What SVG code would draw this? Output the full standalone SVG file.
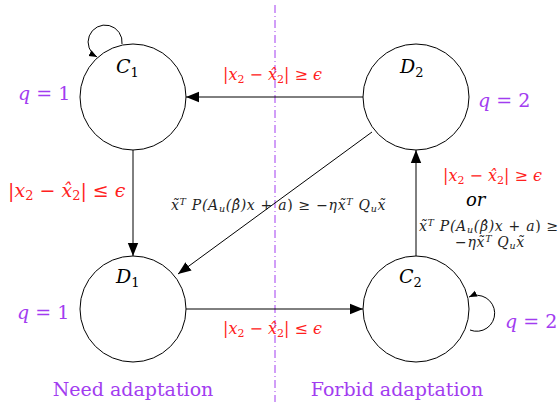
<svg xmlns="http://www.w3.org/2000/svg" width="560" height="405" viewBox="0 0 560 405">
<style>
.node{fill:none;stroke:#000;stroke-width:1}
.edge{fill:none;stroke:#000;stroke-width:1}
text{font-family:"DejaVu Serif","Liberation Serif",serif}
.m{font-style:italic}
.lab{font-size:19px;fill:#000}
.q{font-size:19px;fill:#a23cf0}
.red{font-size:16px;fill:#ff2020}
.big{font-size:19px}
.small{font-size:14px;fill:#222;letter-spacing:0.7px}
.cap{font-size:19px;fill:#a23cf0}
</style>
<defs>
<marker id="ah" viewBox="0 0 10 10" refX="10" refY="5" markerWidth="13" markerHeight="13" markerUnits="userSpaceOnUse" orient="auto">
<path d="M0,1 L10,5 L0,9 z" fill="#000"/>
</marker>
<marker id="ahs" viewBox="0 0 10 10" refX="10" refY="5" markerWidth="8" markerHeight="8" markerUnits="userSpaceOnUse" orient="auto">
<path d="M0,1 L10,5 L0,9 z" fill="#000"/>
</marker>
</defs>
<line x1="275" y1="5" x2="275" y2="402" stroke="#a23cf0" stroke-width="1" stroke-dasharray="8,3,1,3"/>
<g id="C1"><circle class="node" cx="133" cy="97" r="53"/><text class="m lab" x="116" y="73">C<tspan font-style="normal" font-size="13" dy="4">1</tspan></text></g>
<g id="D2"><circle class="node" cx="416" cy="97" r="53"/><text class="m lab" x="400" y="73">D<tspan font-style="normal" font-size="13" dy="4">2</tspan></text></g>
<g id="D1"><circle class="node" cx="133" cy="309" r="53"/><text class="m lab" x="116" y="283">D<tspan font-style="normal" font-size="13" dy="4">1</tspan></text></g>
<g id="C2"><circle class="node" cx="416" cy="309" r="53"/><text class="m lab" x="399" y="283">C<tspan font-style="normal" font-size="13" dy="4">2</tspan></text></g>
<g id="connectors">
<line class="edge" x1="363" y1="97" x2="186" y2="97" marker-end="url(#ah)"/>
<line class="edge" x1="133" y1="150" x2="133" y2="256" marker-end="url(#ah)"/>
<line class="edge" x1="186" y1="309" x2="363" y2="309" marker-end="url(#ah)"/>
<line class="edge" x1="416" y1="256" x2="416" y2="150" marker-end="url(#ah)"/>
<line class="edge" x1="372" y1="132" x2="178" y2="274" marker-end="url(#ah)"/>
<path class="edge" d="M122,44 A17,17 0 1 0 97,57" marker-end="url(#ahs)"/>
<path class="edge" d="M470,330 A18,18 0 1 0 469,297" marker-end="url(#ahs)"/>
</g>
<text class="m q" x="18" y="100">q <tspan font-style="normal">= 1</tspan></text>
<text class="m q" x="478" y="107">q <tspan font-style="normal">= 2</tspan></text>
<text class="m q" x="17" y="319">q <tspan font-style="normal">= 1</tspan></text>
<text class="m q" x="505" y="328">q <tspan font-style="normal">= 2</tspan></text>
<text class="m red" x="223" y="80"><tspan font-style="normal">|</tspan>x<tspan font-style="normal" font-size="11" dy="3">2</tspan><tspan font-style="normal" dy="-3"> − </tspan>x̂<tspan font-style="normal" font-size="11" dy="3">2</tspan><tspan font-style="normal" dy="-3">| ≥ </tspan>ϵ</text>
<text class="m red" x="223" y="334"><tspan font-style="normal">|</tspan>x<tspan font-style="normal" font-size="11" dy="3">2</tspan><tspan font-style="normal" dy="-3"> − </tspan>x̂<tspan font-style="normal" font-size="11" dy="3">2</tspan><tspan font-style="normal" dy="-3">| ≤ </tspan>ϵ</text>
<text class="m red big" x="8" y="197"><tspan font-style="normal">|</tspan>x<tspan font-style="normal" font-size="13" dy="3">2</tspan><tspan font-style="normal" dy="-3"> − </tspan>x̂<tspan font-style="normal" font-size="13" dy="3">2</tspan><tspan font-style="normal" dy="-3">| ≤ </tspan>ϵ</text>
<text class="m red" x="443" y="181"><tspan font-style="normal">|</tspan>x<tspan font-style="normal" font-size="11" dy="3">2</tspan><tspan font-style="normal" dy="-3"> − </tspan>x̂<tspan font-style="normal" font-size="11" dy="3">2</tspan><tspan font-style="normal" dy="-3">| ≥ </tspan>ϵ</text>
<text class="m" x="466" y="206" font-size="18" fill="#000">or</text>
<text class="m small" x="171" y="210">x̃<tspan font-size="9.5" dy="-5">T</tspan><tspan dy="5"> P(A</tspan><tspan font-size="9.5" dy="2">u</tspan><tspan dy="-2">(β̂)x </tspan><tspan font-style="normal">+ </tspan>a<tspan font-style="normal">) ≥ −</tspan>ηx̃<tspan font-size="9.5" dy="-5">T</tspan><tspan dy="5"> Q</tspan><tspan font-size="9.5" dy="2">u</tspan><tspan dy="-2">x̃</tspan></text>
<text class="m small" x="419" y="231">x̃<tspan font-size="9.5" dy="-5">T</tspan><tspan dy="5"> P(A</tspan><tspan font-size="9.5" dy="2">u</tspan><tspan dy="-2">(β̂)x </tspan><tspan font-style="normal">+ </tspan>a<tspan font-style="normal">) ≥</tspan></text>
<text class="m small" x="455" y="247"><tspan font-style="normal">−</tspan>ηx̃<tspan font-size="9.5" dy="-5">T</tspan><tspan dy="5"> Q</tspan><tspan font-size="9.5" dy="2">u</tspan><tspan dy="-2">x̃</tspan></text>
<text class="cap" x="133" y="396" text-anchor="middle">Need adaptation</text>
<text class="cap" x="397" y="396" text-anchor="middle">Forbid adaptation</text>
</svg>
